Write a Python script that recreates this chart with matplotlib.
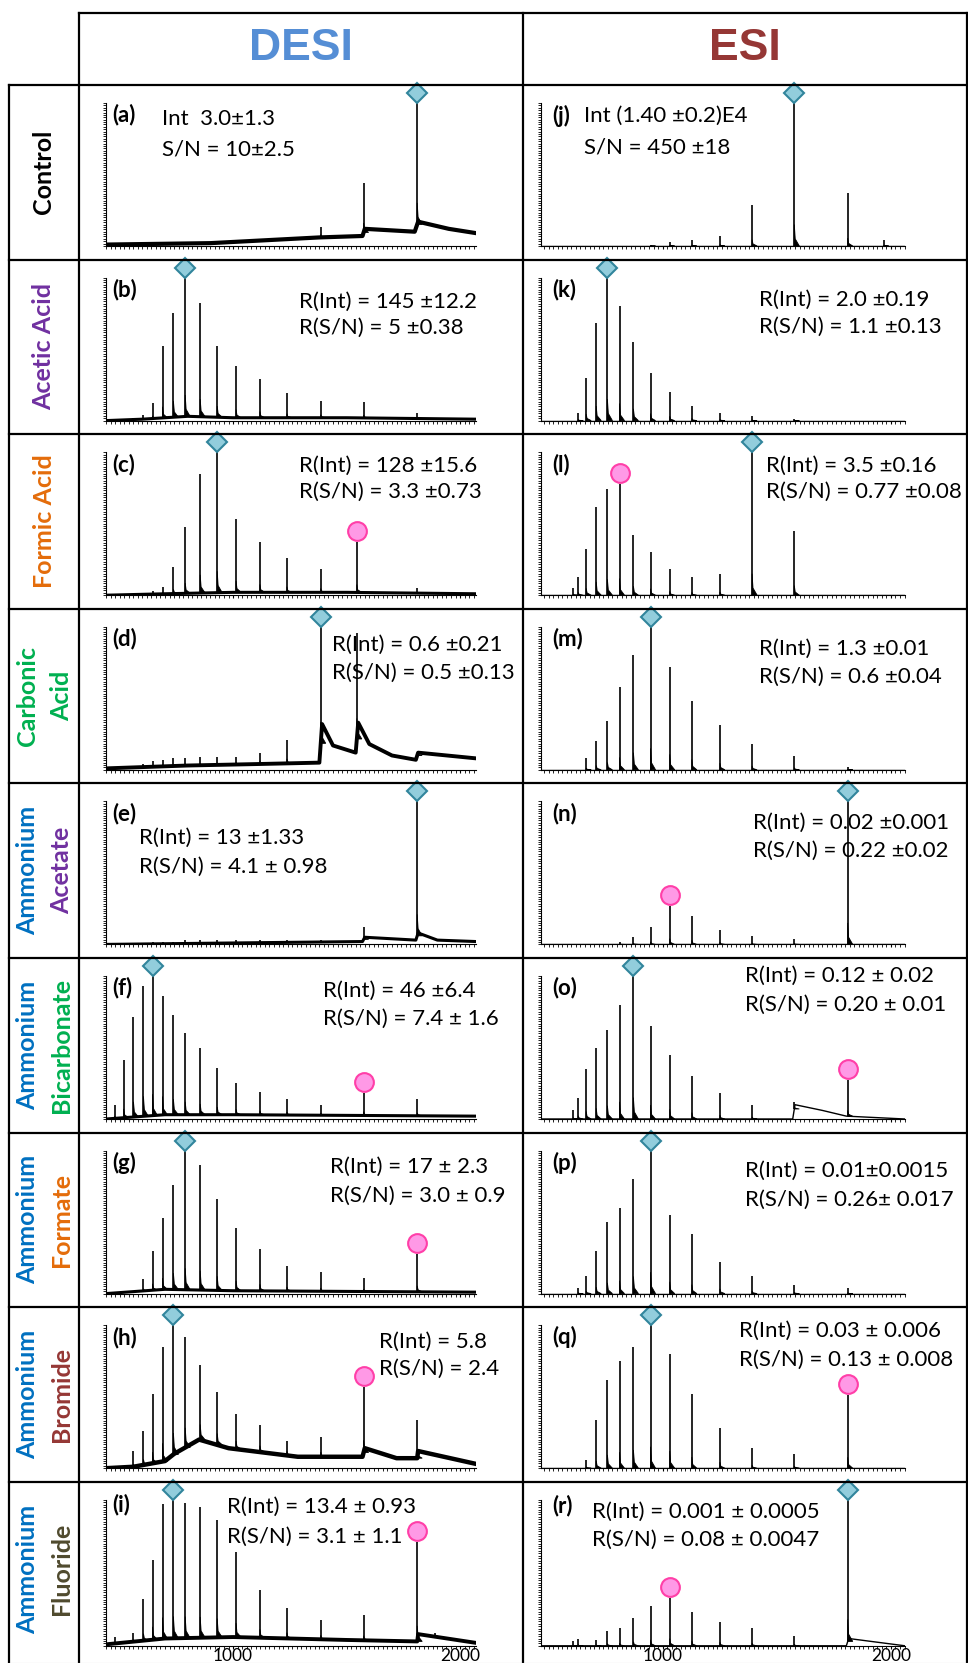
import numpy as np
import matplotlib.pyplot as plt
from matplotlib.transforms import offset_copy
from matplotlib.ticker import MultipleLocator, FixedLocator, NullFormatter

# ---- data ------------------------------------------------------------------
DESI_MZ = [478, 518, 561, 605, 645, 689, 737, 789, 855, 930, 1013, 1118, 1237, 1386, 1545, 1575, 1811, 1890]
ESI_MZ = [608, 630, 665, 709, 758, 811, 872, 947, 1031, 1128, 1251, 1392, 1577, 1811, 1969]

desi_heights = {
    'a': [0, 0, 0, 0, 0, 0, 0, 0, 0, 0, 0, 0, 0, 0.13, 0, 0.44, 1.0, 0],
    'b': [0, 0, 0.02, 0.04, 0.12, 0.52, 0.75, 1.0, 0.82, 0.52, 0.38, 0.29, 0.19, 0.14, 0, 0.13, 0.05, 0],
    'c': [0, 0, 0, 0, 0.03, 0.06, 0.2, 0.48, 0.85, 1.0, 0.53, 0.37, 0.26, 0.18, 0.37, 0, 0.05, 0],
    'd': [0, 0, 0, 0.04, 0.06, 0.07, 0.08, 0.08, 0.09, 0.09, 0.09, 0.12, 0.21, 1.0, 0.96, 0, 0.12, 0],
    'e': [0, 0, 0, 0, 0.02, 0.02, 0.02, 0.03, 0.03, 0.03, 0.03, 0.03, 0.03, 0.03, 0, 0.12, 1.0, 0],
    'f': [0.1, 0.41, 0.71, 0.93, 1.0, 0.86, 0.73, 0.6, 0.5, 0.36, 0.25, 0.19, 0.14, 0.1, 0, 0.18, 0.14, 0],
    'g': [0, 0, 0, 0.1, 0.3, 0.53, 0.76, 1.0, 0.9, 0.66, 0.46, 0.31, 0.19, 0.15, 0, 0.11, 0.28, 0],
    'h': [0, 0, 0.12, 0.26, 0.52, 0.85, 1.0, 0.92, 0.72, 0.53, 0.38, 0.3, 0.19, 0.22, 0, 0.57, 0.34, 0],
    'i': [0.06, 0, 0.09, 0.32, 0.59, 0.97, 1.0, 0.98, 0.95, 0.86, 0.64, 0.38, 0.26, 0.18, 0, 0.21, 0.71, 0.09],
}
esi_heights = {
    'j': [0, 0, 0, 0, 0, 0, 0, 0.01, 0.03, 0.04, 0.07, 0.29, 1.0, 0.37, 0.04],
    'k': [0, 0.05, 0.3, 0.68, 1.0, 0.8, 0.55, 0.33, 0.2, 0.1, 0.05, 0.03, 0.01, 0, 0],
    'l': [0.05, 0.13, 0.32, 0.62, 0.74, 0.78, 0.42, 0.3, 0.18, 0.13, 0.15, 1.0, 0.45, 0, 0],
    'm': [0, 0, 0.08, 0.2, 0.34, 0.58, 0.8, 1.0, 0.72, 0.48, 0.31, 0.18, 0.1, 0.02, 0],
    'n': [0, 0, 0, 0, 0, 0.02, 0.05, 0.12, 0.27, 0.2, 0.1, 0.06, 0.04, 1.0, 0],
    'o': [0.06, 0.15, 0.35, 0.5, 0.62, 0.8, 1.0, 0.65, 0.45, 0.3, 0.18, 0.1, 0.12, 0.27, 0],
    'p': [0, 0.04, 0.12, 0.3, 0.5, 0.6, 0.8, 1.0, 0.55, 0.42, 0.22, 0.12, 0.06, 0.04, 0],
    'q': [0, 0, 0.06, 0.34, 0.62, 0.75, 0.85, 1.0, 0.8, 0.52, 0.28, 0.14, 0.1, 0.51, 0],
    'r': [0.03, 0.05, 0, 0.04, 0.1, 0.12, 0.19, 0.27, 0.33, 0.23, 0.16, 0.12, 0.07, 1.0, 0],
}

# baseline (m/z, level) points
baselines = {
    'a': ([440, 900, 1380, 1570, 1580, 1800, 1815, 1950, 2070], [0.01, 0.02, 0.06, 0.07, 0.12, 0.10, 0.17, 0.12, 0.09]),
    'b': ([440, 600, 800, 1000, 1500, 2070], [0.0, 0.01, 0.03, 0.02, 0.02, 0.01]),
    'c': ([440, 700, 1000, 1500, 2070], [0.0, 0.01, 0.02, 0.02, 0.01]),
    'd': ([440, 800, 1100, 1380, 1392, 1440, 1540, 1551, 1600, 1700, 1805, 1815, 2070],
          [0.01, 0.03, 0.04, 0.05, 0.32, 0.17, 0.12, 0.33, 0.18, 0.1, 0.07, 0.12, 0.08]),
    'e': ([440, 1000, 1570, 1580, 1805, 1815, 1900, 2070], [0.0, 0.01, 0.02, 0.05, 0.03, 0.08, 0.03, 0.02]),
    'f': ([440, 700, 1000, 2070], [0.0, 0.03, 0.03, 0.02]),
    'g': ([440, 700, 1000, 2070], [0.0, 0.03, 0.02, 0.01]),
    'h': ([440, 560, 700, 740, 850, 980, 1285, 1570, 1580, 1720, 1811, 1815, 2070],
          [0.0, 0.01, 0.05, 0.1, 0.2, 0.14, 0.08, 0.08, 0.14, 0.07, 0.07, 0.12, 0.03]),
    'i': ([440, 700, 1000, 1500, 1811, 1815, 2070], [0.01, 0.05, 0.06, 0.04, 0.03, 0.08, 0.02]),
    'j': ([467, 2062], [0.0, 0.0]),
    'k': ([467, 2062], [0.0, 0.0]),
    'l': ([467, 2062], [0.0, 0.0]),
    'm': ([467, 2062], [0.0, 0.0]),
    'n': ([467, 2062], [0.0, 0.0]),
    'o': ([467, 1570, 1580, 1700, 1805, 2062], [0.0, 0.0, 0.1, 0.06, 0.02, 0.0]),
    'p': ([467, 2062], [0.0, 0.0]),
    'q': ([467, 2062], [0.0, 0.0]),
    'r': ([467, 1805, 1815, 2062], [0.0, 0.0, 0.05, 0.0]),
}

diamond_mz = {'a': 1811, 'b': 789, 'c': 930, 'd': 1386, 'e': 1811, 'f': 645, 'g': 789, 'h': 737, 'i': 737,
              'j': 1577, 'k': 758, 'l': 1392, 'm': 947, 'n': 1811, 'o': 872, 'p': 947, 'q': 947, 'r': 1811}
pink_mz = {'c': 1545, 'f': 1575, 'g': 1811, 'h': 1575, 'i': 1811,
           'l': 811, 'n': 1031, 'o': 1811, 'q': 1811, 'r': 1031}

notes = {
    'a': ['Int  3.0±1.3', 'S/N = 10±2.5'],
    'b': ['R(Int) = 145 ±12.2', 'R(S/N) = 5 ±0.38'],
    'c': ['R(Int) = 128 ±15.6', 'R(S/N) = 3.3 ±0.73'],
    'd': ['R(Int) = 0.6 ±0.21', 'R(S/N) = 0.5 ±0.13'],
    'e': ['R(Int) = 13 ±1.33', 'R(S/N) = 4.1 ± 0.98'],
    'f': ['R(Int) = 46 ±6.4', 'R(S/N) = 7.4 ± 1.6'],
    'g': ['R(Int) = 17 ± 2.3', 'R(S/N) = 3.0 ± 0.9'],
    'h': ['R(Int) = 5.8', 'R(S/N) = 2.4'],
    'i': ['R(Int) = 13.4 ± 0.93', 'R(S/N) = 3.1 ± 1.1'],
    'j': ['Int (1.40 ±0.2)E4', 'S/N = 450 ±18'],
    'k': ['R(Int) = 2.0 ±0.19', 'R(S/N) = 1.1 ±0.13'],
    'l': ['R(Int) = 3.5 ±0.16', 'R(S/N) = 0.77 ±0.08'],
    'm': ['R(Int) = 1.3 ±0.01', 'R(S/N) = 0.6 ±0.04'],
    'n': ['R(Int) = 0.02 ±0.001', 'R(S/N) = 0.22 ±0.02'],
    'o': ['R(Int) = 0.12 ± 0.02', 'R(S/N) = 0.20 ± 0.01'],
    'p': ['R(Int) = 0.01±0.0015', 'R(S/N) = 0.26± 0.017'],
    'q': ['R(Int) = 0.03 ± 0.006', 'R(S/N) = 0.13 ± 0.008'],
    'r': ['R(Int) = 0.001 ± 0.0005', 'R(S/N) = 0.08 ± 0.0047'],
}

BLUE, PURPLE, ORANGE, GREEN = '#0070C0', '#7030A0', '#E46C0A', '#00B050'
BROWN, OLIVE = '#953735', '#4F4A2E'
row_labels = [
    [('Control', 'black')],
    [('Acetic Acid', PURPLE)],
    [('Formic Acid', ORANGE)],
    [('Carbonic', GREEN), ('Acid', GREEN)],
    [('Ammonium', BLUE), ('Acetate', PURPLE)],
    [('Ammonium', BLUE), ('Bicarbonate', GREEN)],
    [('Ammonium', BLUE), ('Formate', ORANGE)],
    [('Ammonium', BLUE), ('Bromide', BROWN)],
    [('Ammonium', BLUE), ('Fluoride', OLIVE)],
]

# text placement inside each cell (pixels from cell's top-left): label y, note x, line1 y, line2 y
note_pos = {
    'a': (30, 83, 34, 65), 'b': (30, 220, 42, 68), 'c': (30, 220, 32, 58), 'd': (30, 253, 36, 64),
    'e': (30, 60, 54, 83), 'f': (30, 244, 33, 61), 'g': (30, 251, 34, 63), 'h': (30, 300, 35, 62),
    'i': (23, 148, 25, 55),
    'j': (31, 61, 31, 62), 'k': (30, 236, 40, 67), 'l': (30, 243, 32, 58), 'm': (30, 236, 40, 68),
    'n': (30, 230, 39, 67), 'o': (30, 222, 18, 47), 'p': (30, 222, 38, 67), 'q': (30, 216, 24, 53),
    'r': (24, 69, 30, 58),
}

# ---- layout ----------------------------------------------------------------
W, H = 968, 1663
plt.rcParams['font.family'] = ['Lato', 'DejaVu Sans']
fig = plt.figure(figsize=(W / 100, H / 100), dpi=100)

def fx(x):
    return x / W

def fy(y):
    return 1 - y / H

ROW0, ROWH = 85, 174.6
COL_L = [79, 523]
AX_X = [(106, 476), (541, 905)]
XLIM = [(440, 2070), (467, 2062)]

def hline(y, x0, x1, **kw):
    fig.add_artist(plt.Line2D([fx(x0), fx(x1)], [fy(y), fy(y)], **kw))

def vline(x, y0, y1, **kw):
    fig.add_artist(plt.Line2D([fx(x), fx(x)], [fy(y0), fy(y1)], **kw))

lk = dict(color='black', lw=1.6)
hline(13, 79, 968, **lk)
for i in range(9):
    hline(ROW0 + ROWH * i, 9, 968, **lk)
vline(79, 13, 1663, **lk)
vline(523, 13, 1663, **lk)
vline(966.5, 13, 1663, **lk)
vline(9, 85, 1663, **lk)
hline(1662.5, 9, 968, color='#c0c0c0', lw=0.8)

fig.text(fx(301), fy(49), 'DESI', ha='center', va='center', fontsize=32, weight='bold',
         family=['Liberation Sans', 'DejaVu Sans'], color='#558ED5')
fig.text(fx(745), fy(49), 'ESI', ha='center', va='center', fontsize=32, weight='bold',
         family=['Liberation Sans', 'DejaVu Sans'], color='#953735')

for i, parts in enumerate(row_labels):
    yc = ROW0 + ROWH * i + ROWH / 2
    xs = [44] if len(parts) == 1 else [28, 62]
    for (txt, col), x in zip(parts, xs):
        fig.text(fx(x), fy(yc), txt, rotation=90, ha='center', va='center', fontsize=18,
                 weight='bold', color=col)

# ---- spectra ---------------------------------------------------------------
panels = [list('abcdefghi'), list('jklmnopqr')]
thick = {'a': 3.0, 'd': 2.8, 'h': 3.2, 'i': 2.8}
for c in range(2):
    mzs = DESI_MZ if c == 0 else ESI_MZ
    heights = desi_heights if c == 0 else esi_heights
    for r, key in enumerate(panels[c]):
        base_lw = thick.get(key, 2.2) if c == 0 else 1.0
        top = ROW0 + ROWH * r
        ax_top = top + 18
        ax_bot = top + (164 if r == 8 else 161)
        x0, x1 = AX_X[c]
        ax = fig.add_axes([fx(x0), fy(ax_bot), fx(x1) - fx(x0), (ax_bot - ax_top) / H])
        ax.set_facecolor('none')
        ax.set_xlim(*XLIM[c])
        ax.set_ylim(0, 1)
        for s in ['top', 'right']:
            ax.spines[s].set_visible(False)
        ax.spines['left'].set_linewidth(0.8)
        ax.spines['bottom'].set_linewidth(0.8)
        ax.xaxis.set_major_locator(FixedLocator([1000, 2000]))
        ax.xaxis.set_minor_locator(MultipleLocator(20))
        ax.yaxis.set_major_locator(FixedLocator([]))
        ax.yaxis.set_minor_locator(MultipleLocator(1 / 60))
        ax.tick_params(which='minor', length=2, width=0.6, direction='out')
        ax.tick_params(which='major', length=2.5, width=0.8, direction='out', labelsize=12.5, pad=-1)
        if r != 8:
            ax.xaxis.set_major_formatter(NullFormatter())

        bx, by = baselines[key]
        ax.plot(bx, by, color='black', lw=base_lw, zorder=3)
        hs = heights[key]
        for mz, h in zip(mzs, hs):
            if h <= 0:
                continue
            b = np.interp(mz, bx, by)
            ax.vlines(mz, b, h, color='black', lw=1.2, zorder=3)
            ax.fill([mz, mz, mz + 4, mz + 22], [b, b + 0.15 * h, b + 0.05 * h, b],
                    color='black', lw=0.6, zorder=3)

        up = offset_copy(ax.transData, fig=fig, y=10, units='dots')
        dm = diamond_mz[key]
        ax.plot([dm], [hs[mzs.index(dm)]], marker='D', ms=10, mfc='#92CDDC', mec='#31859C', mew=1.5,
                transform=up, clip_on=False, zorder=5)
        if key in pink_mz:
            pm = pink_mz[key]
            ax.plot([pm], [hs[mzs.index(pm)]], marker='o', ms=13.5, mfc='#FF99E6', mec='#FF3FA8', mew=1.5,
                    transform=offset_copy(ax.transData, fig=fig, y=11, units='dots'),
                    clip_on=False, zorder=5)

        ly, nx, y1, y2 = note_pos[key]
        cl = COL_L[c]
        lx = 33 if c == 0 else 29
        ax.text(fx(cl + lx), fy(top + ly), '(%s)' % key, transform=fig.transFigure, fontsize=16,
                weight='bold', va='center', ha='left', zorder=1)
        for txt, yy in zip(notes[key], [y1, y2]):
            ax.text(fx(cl + nx), fy(top + yy), txt, transform=fig.transFigure, fontsize=16,
                    va='center', ha='left', zorder=1)

fig.savefig('out.png', dpi=100)
